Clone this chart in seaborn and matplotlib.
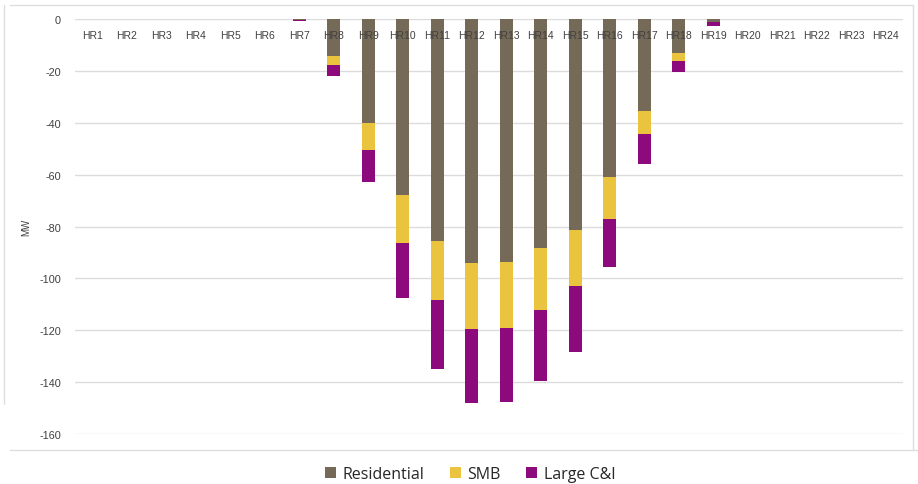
import numpy as np
import pandas as pd
import matplotlib
matplotlib.use("Agg")
import matplotlib.pyplot as plt
from matplotlib.lines import Line2D
from matplotlib.patches import Patch
import seaborn as sns

# Dados (MW, negativos)
hours = [f"HR{i}" for i in range(1, 25)]
residential = [0, 0, 0, 0, 0, 0, -0.3, -14.3, -40.0, -68.0, -85.6, -94.0,
               -93.7, -88.3, -81.3, -61.0, -35.5, -13.1, -1.2, 0, 0, 0, 0, 0]
smb = [0, 0, 0, 0, 0, 0, 0, -3.4, -10.5, -18.4, -22.7, -25.5,
       -25.3, -23.7, -21.7, -16.0, -8.8, -3.1, 0, 0, 0, 0, 0, 0]
large_ci = [0, 0, 0, 0, 0, 0, -0.6, -4.3, -12.3, -21.1, -26.7, -28.5,
            -28.6, -27.5, -25.4, -18.6, -11.6, -4.2, -1.4, 0, 0, 0, 0, 0]

colors = {"Residential": "#746a57", "SMB": "#ebc43f", "Large C&I": "#8d0a7c"}

df = pd.DataFrame({"hour": hours, "Residential": residential,
                   "SMB": smb, "Large C&I": large_ci})
df["cum_res"] = df["Residential"]
df["cum_smb"] = df["cum_res"] + df["SMB"]
df["cum_all"] = df["cum_smb"] + df["Large C&I"]

sns.set_style("white")
plt.rcParams["font.family"] = ["Liberation Sans", "DejaVu Sans"]
plt.rcParams["axes.unicode_minus"] = False

fig = plt.figure(figsize=(9.18, 4.85), dpi=100)
ax = fig.add_axes([75 / 918, 1 - 435 / 485, 828 / 918, 415 / 485])

# barras empilhadas: desenha o total primeiro e sobrepõe as parciais
w = 0.38
sns.barplot(data=df, x="hour", y="cum_all", color=colors["Large C&I"],
            width=w, saturation=1, linewidth=0, ax=ax, zorder=3)
sns.barplot(data=df, x="hour", y="cum_smb", color=colors["SMB"],
            width=w, saturation=1, linewidth=0, ax=ax, zorder=4)
sns.barplot(data=df, x="hour", y="cum_res", color=colors["Residential"],
            width=w, saturation=1, linewidth=0, ax=ax, zorder=5)

ax.set_ylim(-160, 0)
ax.set_xlim(-0.5, 23.5)
ax.set_yticks(np.arange(-160, 1, 20))
ax.yaxis.grid(True, color="#dcdcdc", linewidth=1)
ax.set_axisbelow(True)
for s in ax.spines.values():
    s.set_visible(False)

ax.set_xlabel("")
ax.set_ylabel("MW", fontsize=7, color="#404040", labelpad=6)
ax.tick_params(axis="y", length=0, labelsize=7.8, labelcolor="#404040", pad=10)
ax.tick_params(axis="x", length=0, bottom=False, labelbottom=False)

# rótulos das horas logo abaixo da linha do zero, por cima das barras
for i, h in enumerate(hours):
    ax.text(i, -6.2, h, ha="center", va="center", fontsize=7.5,
            color="#404040", zorder=10)

handles = [Patch(facecolor=c, edgecolor="none", label=k) for k, c in colors.items()]
fig.legend(handles=handles, loc="center", bbox_to_anchor=(470 / 918, 1 - 475 / 485),
           ncol=3, frameon=False, handlelength=0.7, handleheight=0.7,
           handletextpad=0.4, columnspacing=1.6,
           prop={"family": "Open Sans", "size": 11.5})

# bordas claras da área do gráfico
bc = "#dedede"
fig.add_artist(Line2D([10 / 918, 913 / 918], [1 - 6 / 485, 1 - 6 / 485], color=bc, lw=1))
fig.add_artist(Line2D([913 / 918, 913 / 918], [1 - 6 / 485, 1 - 451 / 485], color=bc, lw=1))
fig.add_artist(Line2D([10 / 918, 918 / 918], [1 - 451 / 485, 1 - 451 / 485], color=bc, lw=1))
fig.add_artist(Line2D([4 / 918, 4 / 918], [1 - 6 / 485, 1 - 405 / 485], color=bc, lw=1))

fig.savefig("out.png", dpi=100)
